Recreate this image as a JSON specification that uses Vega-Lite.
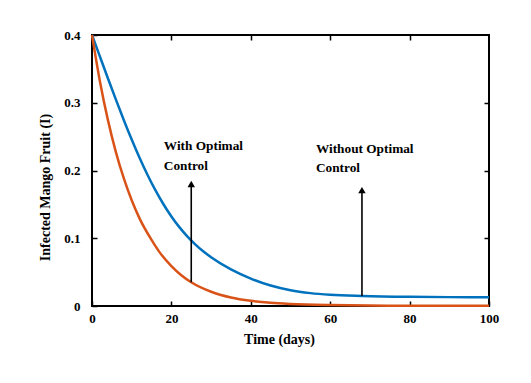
{
  "$schema": "https://vega.github.io/schema/vega-lite/v6.json",
  "width": 397,
  "height": 271,
  "autosize": "none",
  "padding": {"left": 92, "top": 35, "right": 42, "bottom": 77},
  "background": "white",
  "config": {
    "view": {"stroke": "black", "strokeWidth": 2},
    "font": "Liberation Serif",
    "axis": {
      "grid": false,
      "domain": false,
      "tickColor": "black",
      "tickWidth": 1.5,
      "tickSize": -5,
      "labelFlush": false,
      "labelFont": "Liberation Serif",
      "labelFontWeight": "bold",
      "labelFontSize": 13,
      "labelColor": "black",
      "titleFont": "Liberation Serif",
      "titleFontWeight": "bold",
      "titleFontSize": 14,
      "titleColor": "black"
    }
  },
  "datasets": {
    "curves": [
      {"t": 0, "I": 0.4, "s": "without"},
      {"t": 2, "I": 0.368, "s": "without"},
      {"t": 4, "I": 0.3362, "s": "without"},
      {"t": 6, "I": 0.305, "s": "without"},
      {"t": 8, "I": 0.2746, "s": "without"},
      {"t": 10, "I": 0.2456, "s": "without"},
      {"t": 12, "I": 0.2184, "s": "without"},
      {"t": 14, "I": 0.1934, "s": "without"},
      {"t": 16, "I": 0.1706, "s": "without"},
      {"t": 18, "I": 0.1502, "s": "without"},
      {"t": 20, "I": 0.1322, "s": "without"},
      {"t": 22, "I": 0.1164, "s": "without"},
      {"t": 24, "I": 0.1028, "s": "without"},
      {"t": 26, "I": 0.091, "s": "without"},
      {"t": 28, "I": 0.0808, "s": "without"},
      {"t": 30, "I": 0.072, "s": "without"},
      {"t": 35, "I": 0.054, "s": "without"},
      {"t": 40, "I": 0.0405, "s": "without"},
      {"t": 45, "I": 0.0302, "s": "without"},
      {"t": 50, "I": 0.0232, "s": "without"},
      {"t": 55, "I": 0.019, "s": "without"},
      {"t": 60, "I": 0.0166, "s": "without"},
      {"t": 68, "I": 0.0148, "s": "without"},
      {"t": 80, "I": 0.0135, "s": "without"},
      {"t": 90, "I": 0.0131, "s": "without"},
      {"t": 100, "I": 0.0128, "s": "without"},
      {"t": 0, "I": 0.4, "s": "with"},
      {"t": 2, "I": 0.3314, "s": "with"},
      {"t": 4, "I": 0.2747, "s": "with"},
      {"t": 6, "I": 0.2276, "s": "with"},
      {"t": 8, "I": 0.1886, "s": "with"},
      {"t": 10, "I": 0.156, "s": "with"},
      {"t": 12, "I": 0.129, "s": "with"},
      {"t": 15, "I": 0.0975, "s": "with"},
      {"t": 17, "I": 0.0795, "s": "with"},
      {"t": 20, "I": 0.059, "s": "with"},
      {"t": 22.5, "I": 0.0455, "s": "with"},
      {"t": 25, "I": 0.035, "s": "with"},
      {"t": 30, "I": 0.021, "s": "with"},
      {"t": 35, "I": 0.0125, "s": "with"},
      {"t": 40, "I": 0.0076, "s": "with"},
      {"t": 45, "I": 0.0047, "s": "with"},
      {"t": 50, "I": 0.003, "s": "with"},
      {"t": 60, "I": 0.0013, "s": "with"},
      {"t": 70, "I": 0.0006, "s": "with"},
      {"t": 80, "I": 0.0004, "s": "with"},
      {"t": 100, "I": 0.0003, "s": "with"}
    ],
    "arrows": [
      {"t": 25, "from": 0.035, "to": 0.18},
      {"t": 68, "from": 0.0148, "to": 0.171}
    ],
    "notes": [
      {"t": 18.1, "I": 0.236, "text": "With Optimal"},
      {"t": 18.1, "I": 0.2066, "text": "Control"},
      {"t": 56.4, "I": 0.2317, "text": "Without Optimal"},
      {"t": 56.4, "I": 0.2037, "text": "Control"}
    ]
  },
  "layer": [
    {
      "data": {"name": "curves"},
      "mark": {"type": "line", "strokeWidth": 2.5, "interpolate": "monotone"},
      "encoding": {
        "x": {
          "field": "t", "type": "quantitative",
          "scale": {"domain": [0, 100], "nice": false},
          "axis": {"orient": "bottom", "values": [0, 20, 40, 60, 80, 100], "title": "Time (days)", "labelPadding": 11, "titleX": 187, "titleY": 33, "titleBaseline": "middle"}
        },
        "y": {
          "field": "I", "type": "quantitative",
          "scale": {"domain": [0, 0.4], "nice": false},
          "axis": {"orient": "left", "values": [0, 0.1, 0.2, 0.3, 0.4], "labelExpr": "datum.value == 0 ? '0' : format(datum.value, '.1f')", "title": "Infected Mango Fruit (I)", "labelPadding": 17, "titleX": -47, "titleY": 152, "titleBaseline": "middle"}
        },
        "color": {
          "field": "s", "type": "nominal",
          "scale": {"domain": ["without", "with"], "range": ["#0072BD", "#D95319"]},
          "legend": null
        }
      }
    },
    {
      "data": {"name": "arrows"},
      "mark": {"type": "rule", "color": "black", "strokeWidth": 1.6},
      "encoding": {
        "x": {"field": "t", "type": "quantitative", "axis": {"orient": "top", "values": [20, 40, 60, 80], "labels": false, "title": null}},
        "y": {"field": "from", "type": "quantitative", "axis": {"orient": "right", "values": [0.1, 0.2, 0.3], "labels": false, "title": null}},
        "y2": {"field": "to"}
      }
    },
    {
      "data": {"name": "arrows"},
      "mark": {"type": "point", "shape": "triangle-up", "filled": true, "color": "black", "size": 55, "opacity": 1},
      "encoding": {
        "x": {"field": "t", "type": "quantitative", "axis": null},
        "y": {"field": "to", "type": "quantitative", "axis": null}
      }
    },
    {
      "data": {"name": "notes"},
      "mark": {"type": "text", "align": "left", "baseline": "middle", "font": "Liberation Serif", "fontWeight": "bold", "fontSize": 13.3, "color": "black"},
      "encoding": {
        "x": {"field": "t", "type": "quantitative", "axis": null},
        "y": {"field": "I", "type": "quantitative", "axis": null},
        "text": {"field": "text"}
      }
    }
  ],
  "resolve": {"axis": {"x": "independent", "y": "independent"}}
}
